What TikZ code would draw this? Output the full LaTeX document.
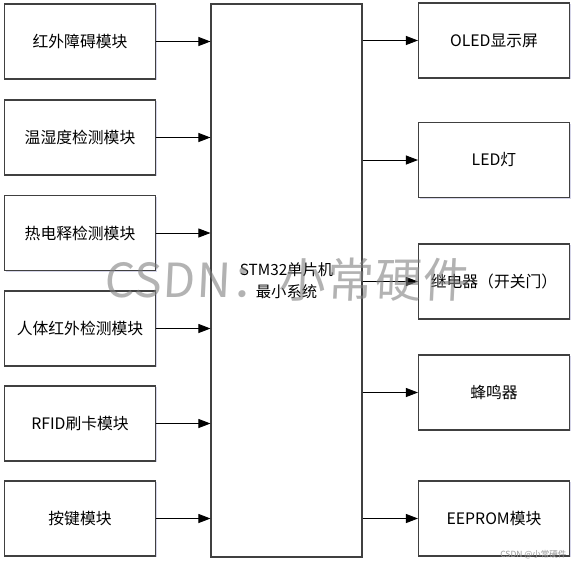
\documentclass[tikz,border=0pt]{standalone}
\usepackage{fontspec}
\setmainfont{Noto Sans CJK SC}
\usetikzlibrary{arrows.meta,shadows}
\begin{document}
\begin{tikzpicture}[x=1pt,y=-1pt,
  box/.style={draw=black!75,line width=1.1pt,fill=white,minimum width=151pt,minimum height=75pt,inner sep=0pt,font=\fontsize{15.8}{18}\selectfont,
    drop shadow={shadow xshift=1pt,shadow yshift=-1.2pt,opacity=0.25,fill=blue!30!gray}},
  conn/.style={draw=black,line width=0.9pt,-{Triangle[length=12pt,width=9pt]}}]
\useasboundingbox (0,0) rectangle (575,566);
\node[box,minimum height=553pt,align=center,font=\fontsize{15.3}{22}\selectfont] (c) at (286.5,280.5) {STM32单片机\\最小系统};
\node[box] (l1) at (80,41.5) {红外障碍模块};
\node[box] (l2) at (80,137.5) {温湿度检测模块};
\node[box] (l3) at (80,233) {热电释检测模块};
\node[box] (l4) at (80,328.5) {人体红外检测模块};
\node[box] (l5) at (80,423.5) {RFID刷卡模块};
\node[box] (l6) at (80,518.5) {按键模块};
\node[box] (r1) at (494,40.5) {OLED显示屏};
\node[box] (r2) at (494,160) {LED灯};
\node[box] (r3) at (494,281.5) {继电器（开关门）};
\node[box] (r4) at (494,392.5) {蜂鸣器};
\node[box] (r5) at (494,518.5) {EEPROM模块};
\foreach \i in {1,...,6}{\draw[conn] (l\i.east) -- (l\i.east -| c.west);}
\foreach \i in {1,...,5}{\draw[conn] (r\i.west -| c.east) -- (r\i.west);}
\node[text=gray,opacity=0.6,font=\fontsize{47}{47}\selectfont\addfontfeatures{FakeSlant=0.05,LetterSpace=2}] (wm) at (287,280) {CSDN：小常硬件};
\node[text=gray!80,anchor=east,font=\fontsize{8.5}{9}\selectfont] (wm2) at (570,555) {CSDN @小常硬件};
\end{tikzpicture}
\end{document}
